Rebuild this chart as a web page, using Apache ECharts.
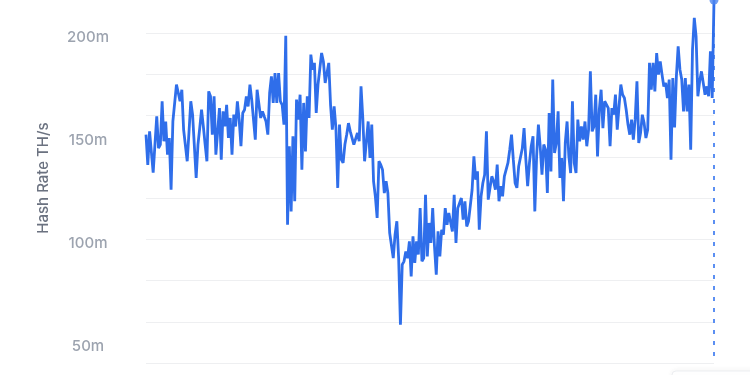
<!DOCTYPE html>
<html>
<head>
<meta charset="utf-8">
<script src="https://cdn.jsdelivr.net/npm/echarts@6/dist/echarts.min.js"></script>
<style>
html,body{margin:0;padding:0;background:#fff;}
#chart{width:750px;height:375px;}
</style>
</head>
<body>
<div id="chart"></div>
<script>
// Hash rate values (m TH/s), in order
var hashRate = [
150.7,136,152.3,152.8,132.3,146,159.6,144.2,145.9,166.9,147.5,157.1,141,149.1,124,157.1,157.5,175,171,166.9,
172.5,153.1,152.3,137.8,152,166.9,160.4,161.2,129.7,145.9,154,162.8,154.7,146,137.8,171.7,169.3,150.7,169.3,141,
140.2,163.6,138.6,162,154.7,165.2,149.1,158.8,141,160.4,154.7,166.9,158,145.1,161.2,162.8,169.3,164.4,175,167.7,
166.9,148.3,172.5,172.5,158.8,162,159.5,157.1,150.7,170.9,179,166.1,180.6,166.1,180.6,166.9,165.2,155.6,198.7,
107,145.1,113.5,149.9,118.4,167.7,158,170.1,133.7,166.1,142.6,169.3,158.8,189.5,182.2,185.5,161.2,175,175.8,190.3,
186.2,175.8,176.6,185.5,165.2,153.1,164.4,153.9,124.9,155.6,138.6,137,145.9,150.7,156.3,152.3,151.5,145.9,145.1,151.5,
147.5,174.1,158.8,137.8,137,157.1,139.4,155.6,128.1,120.8,110.3,137.8,136.2,133.7,122.4,128.1,122.4,103,102.2,90.9,
102.2,108.7,90.9,58.6,87.7,89.3,94.1,90.9,99,82,101.4,88.5,99,92.6,115.1,89.3,90.9,121.6,91.7,107.9,
98.2,115.1,96.6,82.8,103.8,91.7,104.6,102.2,115.1,107,112.7,111.9,103.8,121.6,98.2,115.1,115.9,120,109.5,118.4,
106.2,108.7,108.7,124,140.2,128.9,132.9,104.6,120.8,127.3,131.3,152.3,119.2,125,130.5,128.1,124,136.2,118.4,125.7,
120.8,130.5,130.5,137,143.4,150.7,138.6,127.3,124.9,135.4,135.4,144,153.9,138.6,125.7,137,145.1,149.9,113.5,140.2,
155.6,145.1,131.3,145.9,143.4,122.4,161.2,132.9,177.4,141.8,146.7,162,129.7,139.4,118.4,146.7,157.1,140.2,132.1,166.9,
137,132.1,
158,147.5,154.7,148.3,157.1,145.1,153.1,181.4,152.3,154.7,170.1,140.2,162.8,172.5,153.9,166.9,166.1,163.6,145.1,163.6,
160.4,170.1,153.1,164.4,175,170.1,168.5,162.8,155.6,150.7,158,148.3,158,176.6,146.7,151.5,160.4,156.3,149.1,153.1,
185.5,172.5,185.5,171.7,190.3,179.8,186.2,179.8,174.1,175.8,168.5,177.4,138.6,178.2,154.2,179,193.5,182.2,177.4,162,
178.2,162,175,143.4,191.9,207.3,198.4,169.3,176.6,181.4,175.8,170.1,174.1,169.3,191.1,168.5,216
];
// Category labels (x axis is not labelled in the reference)
var days = hashRate.map(function (_, i) { return 'Day ' + (i + 1); });
// Y tick labels shown in the reference
var yLabelValues = [50, 100, 150, 200];
var axisTitle = 'Hash Rate TH/s';
var yMin = 40, yMax = 200, yStep = 20;

var lastIdx = hashRate.length - 1;
var lastDay = days[lastIdx];
var lastVal = hashRate[lastIdx];

var chart = echarts.init(document.getElementById('chart'), null, {renderer: 'canvas'});
chart.setOption({
  animation: false,
  backgroundColor: '#ffffff',
  grid: {left: 146, right: 36, top: 33, bottom: 12, containLabel: false},
  xAxis: {
    type: 'category',
    data: days,
    boundaryGap: false,
    show: false
  },
  yAxis: {
    type: 'value',
    min: yMin,
    max: yMax,
    interval: yStep,
    axisLine: {show: false},
    axisTick: {show: false},
    splitLine: {show: true, lineStyle: {color: '#eeeff1', width: 1}},
    axisLabel: {
      customValues: yLabelValues,
      formatter: function (v) { return '{t|' + v + 'm}'; },
      align: 'center',
      margin: 58,
      rich: {
        t: {
          color: '#9ca3af',
          fontFamily: 'Inter',
          fontSize: 15,
          fontWeight: 500,
          padding: [9, 0, 0, 0]
        }
      }
    }
  },
  graphic: [
    {
      type: 'text',
      x: 43, y: 178,
      rotation: Math.PI / 2,
      style: {
        text: axisTitle,
        fill: '#6b7280',
        font: '500 15px Inter',
        align: 'center',
        verticalAlign: 'middle'
      }
    },
    {
      type: 'rect',
      shape: {x: 672, y: 371, width: 120, height: 40, r: 4},
      style: {fill: '#ffffff', stroke: '#eceef1', lineWidth: 1,
        shadowBlur: 6, shadowColor: 'rgba(0,0,0,0.06)'},
      z: 100
    }
  ],
  series: [
    {
      type: 'line',
      data: [[lastDay, lastVal], [lastDay, yMin]],
      showSymbol: false,
      clip: false,
      silent: true,
      lineStyle: {color: '#5b8ff2', width: 2, type: [4, 7]},
      z: 1
    },
    {
      type: 'line',
      data: hashRate,
      showSymbol: false,
      clip: false,
      lineStyle: {color: '#2f6eea', width: 2.8},
      itemStyle: {color: '#2f6eea'},
      z: 3
    },
    {
      type: 'scatter',
      data: [[lastDay, lastVal]],
      symbol: 'circle',
      symbolSize: 9,
      clip: false,
      itemStyle: {color: '#4d86f0'},
      z: 5
    }
  ]
});
</script>
</body>
</html>
